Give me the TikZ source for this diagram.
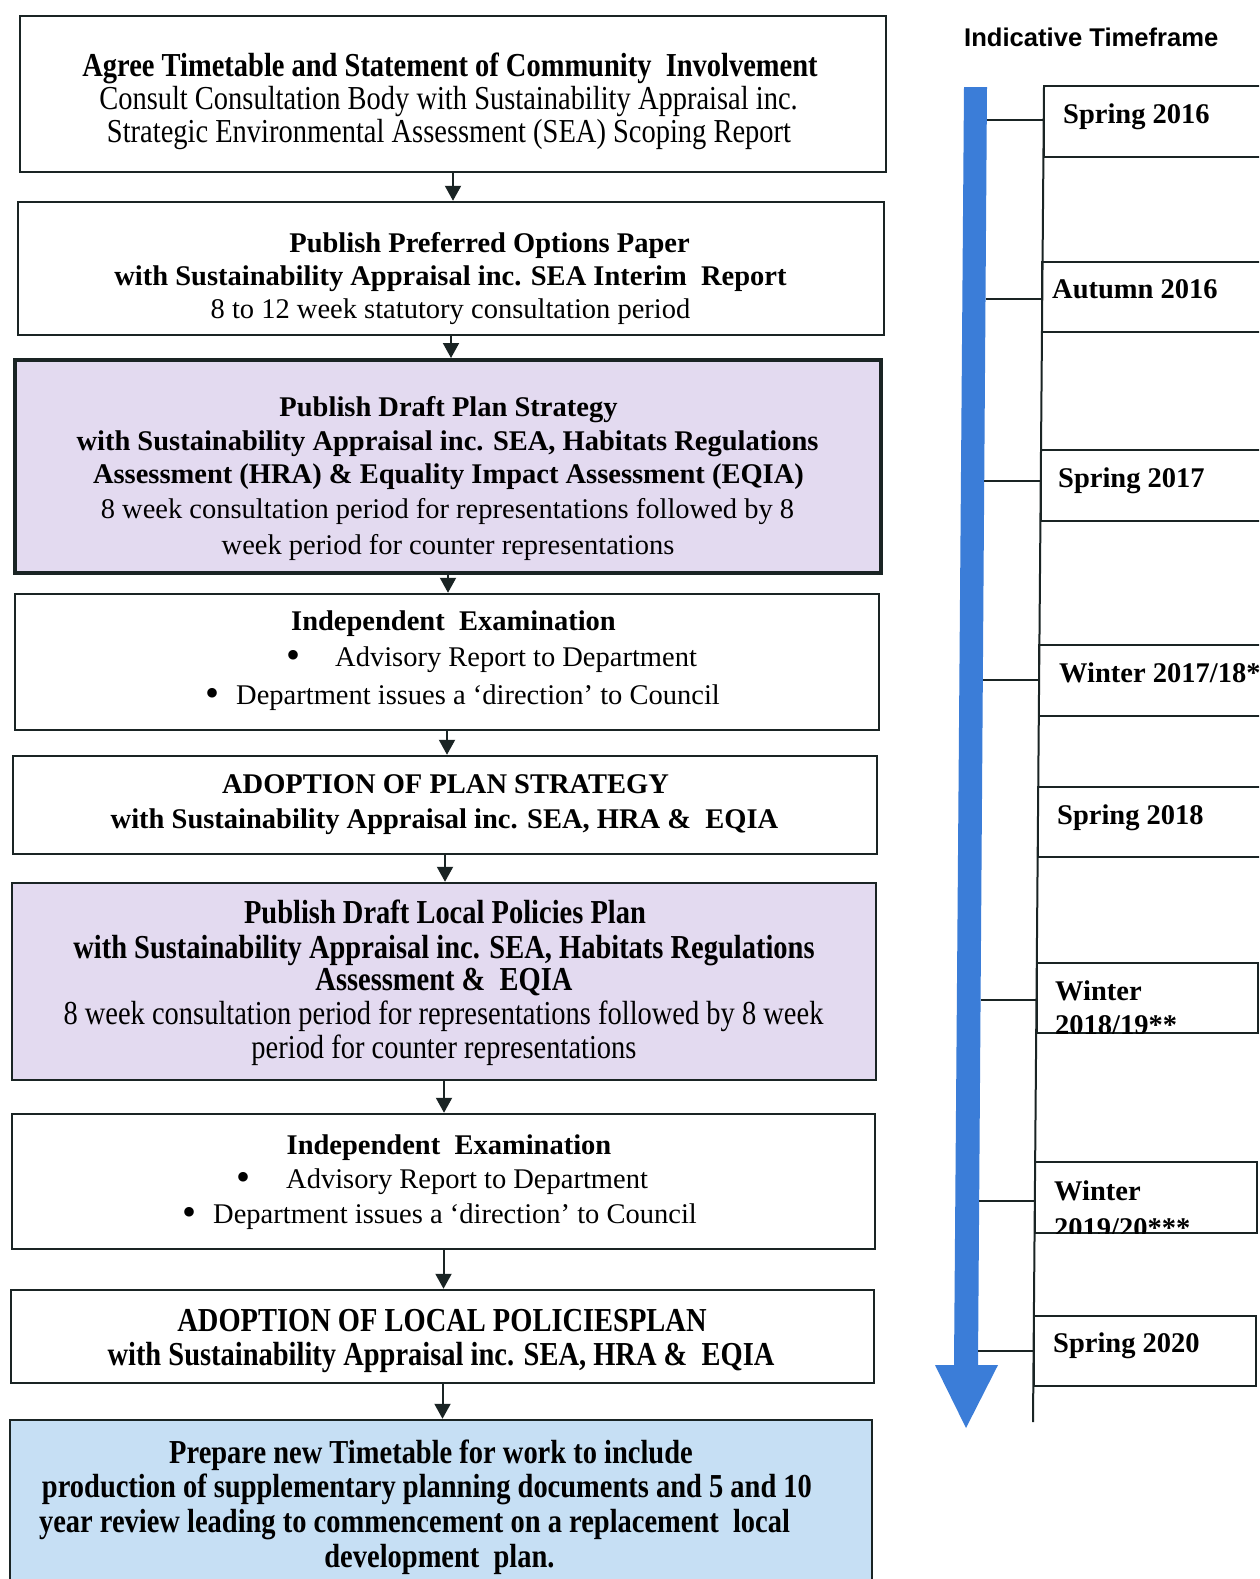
\documentclass[tikz,border=0pt]{standalone}
\usepackage{fontspec}
\setmainfont{Liberation Serif}
\newfontfamily\cnd[FakeStretch=0.85]{Liberation Serif}
\newfontfamily\hdr{Liberation Sans}
\usetikzlibrary{arrows.meta}
\definecolor{lav}{HTML}{E3DAF0}
\definecolor{sky}{HTML}{C6DFF4}
\definecolor{tlblue}{HTML}{3B7DD8}
\definecolor{ink}{HTML}{1A2424}
\tikzset{
  box/.style={draw=ink, line width=2.5pt, rectangle, inner sep=0pt},
  nr/.style={font=\fontsize{28.5}{33}\selectfont, inner sep=0pt, anchor=base},
  nb/.style={font=\bfseries\fontsize{28.5}{33}\selectfont, inner sep=0pt, anchor=base},
  cr/.style={font=\cnd\fontsize{33.5}{34}\selectfont, inner sep=0pt, anchor=base},
  cb/.style={font=\cnd\bfseries\fontsize{33.5}{34}\selectfont, inner sep=0pt, anchor=base},
  bl/.style={font=\fontsize{28.5}{33}\selectfont, inner sep=0pt, anchor=base west},
  bul/.style={font=\fontsize{40}{40}\selectfont, inner sep=0pt, anchor=base},
  flow/.style={draw=ink, line width=2pt, -{Triangle[length=15pt,width=16pt]}},
  tbox/.style={draw=ink, line width=2pt},
  tlab/.style={font=\bfseries\fontsize{28.5}{33}\selectfont, inner sep=0pt, anchor=base west},
}
\begin{document}
\begin{tikzpicture}[x=1pt,y=-1pt]
\clip (0,0) rectangle (1259,1579);
\fill[white] (0,0) rectangle (1259,1579);

% ---------- main flow boxes ----------
\node[box, minimum width=866pt, minimum height=156pt] (box1) at (453,94) {};
\node[box, minimum width=866pt, minimum height=133pt] (box2) at (451,268.5) {};
\node[box, fill=lav, line width=4pt, minimum width=866pt, minimum height=213pt] (box3) at (448,466.5) {};
\node[box, minimum width=864pt, minimum height=136pt] (box4) at (447,662) {};
\node[box, minimum width=864pt, minimum height=98pt] (box5) at (445,805) {};
\node[box, fill=lav, minimum width=864pt, minimum height=197pt] (box6) at (444,981.5) {};
\node[box, minimum width=863pt, minimum height=135pt] (box7) at (443.5,1181.5) {};
\node[box, minimum width=863pt, minimum height=93pt] (box8) at (442.5,1336.5) {};
\node[box, fill=sky, minimum width=862pt, minimum height=190pt] (box9) at (441,1515) {};

% ---------- connectors ----------
\draw[flow] (box1.south) -- (box1.south |- box2.north);
\draw[flow] (box2.south) -- (box2.south |- box3.north);
\draw[flow] (box3.south) -- (box3.south |- box4.north);
\draw[flow] (box4.south) -- (box4.south |- box5.north);
\draw[flow] (box5.south) -- (box5.south |- box6.north);
\draw[flow] (box6.south) -- (box6.south |- box7.north);
\draw[flow] (box7.south) -- (box7.south |- box8.north);
\draw[flow] (box8.south) -- (box8.south |- box9.north);

% ---------- box texts ----------
\node[cb] (t1a) at (450,77) {Agree Timetable and Statement of Community~ Involvement};
\node[cr] (t1b) at (448.5,109) {Consult Consultation Body with Sustainability Appraisal inc.};
\node[cr] (t1c) at (449,142) {Strategic Environmental Assessment (SEA) Scoping Report};

\node[nb] (t2a) at (489.5,252) {Publish Preferred Options Paper};
\node[nb] (t2b) at (450.5,285) {with Sustainability Appraisal inc. SEA Interim~ Report};
\node[nr] (t2c) at (450.5,318) {8 to 12 week statutory consultation period};

\node[nb] (t3a) at (448.5,416) {Publish Draft Plan Strategy};
\node[nb] (t3b) at (447.5,450) {with Sustainability Appraisal inc. SEA, Habitats Regulations};
\node[nb] (t3c) at (448.5,483) {Assessment (HRA) \& Equality Impact Assessment (EQIA)};
\node[nr] (t3d) at (447.5,518) {8 week consultation period for representations followed by 8};
\node[nr] (t3e) at (448,554) {week period for counter representations};

\node[nb] (t4a) at (453.5,630) {Independent~ Examination};
\node[bul] (t4b) at (293,668) {•};
\node[bl] (t4c) at (335,666) {Advisory Report to Department};
\node[bul] (t4d) at (212,706) {•};
\node[bl] (t4e) at (236,704) {Department issues a ‘direction’ to Council};

\node[nb] (t5a) at (445.5,793) {ADOPTION OF PLAN STRATEGY};
\node[nb] (t5b) at (444.5,828) {with Sustainability Appraisal inc. SEA, HRA \&~ EQIA};

\node[cb] (t6a) at (445,923) {Publish Draft Local Policies Plan};
\node[cb] (t6b) at (444,958) {with Sustainability Appraisal inc. SEA, Habitats Regulations};
\node[cb] (t6c) at (444,990) {Assessment \&~ EQIA};
\node[cr] (t6d) at (443.5,1024) {8 week consultation period for representations followed by 8 week};
\node[cr] (t6e) at (444,1058) {period for counter representations};

\node[nb] (t7a) at (449,1154) {Independent~ Examination};
\node[bul] (t7b) at (243,1190) {•};
\node[bl] (t7c) at (286,1188) {Advisory Report to Department};
\node[bul] (t7d) at (189,1225) {•};
\node[bl] (t7e) at (213,1223) {Department issues a ‘direction’ to Council};

\node[cb] (t8a) at (442,1331) {ADOPTION OF LOCAL POLICIESPLAN};
\node[cb] (t8b) at (441,1365) {with Sustainability Appraisal inc. SEA, HRA \&~ EQIA};

\node[cb] (t9a) at (431,1463) {Prepare new Timetable for work to include};
\node[cb] (t9b) at (427,1497) {production of supplementary planning documents and 5 and 10};
\node[cb] (t9c) at (414.5,1532) {year review leading to commencement on a replacement~ local};
\node[cb] (t9d) at (439.5,1567) {development~ plan.};

% ---------- timeline ----------
\node[font=\hdr\bfseries\fontsize{25.6}{30}\selectfont, inner sep=0pt, anchor=base west] (hdr) at (964,47) {Indicative Timeframe};

\fill[tlblue] (964,87) -- (987,87) -- (978,1365) -- (998,1365) -- (966,1428) -- (935,1365) -- (954,1365) -- cycle;

\coordinate (vtop) at (1044,86);
\coordinate (vbot) at (1033,1422);
\draw[ink, line width=2pt] (vtop) -- (vbot);

\draw[tbox] (1043.7,86) rectangle (1266,157);
\draw[tbox] (1042.3,262) rectangle (1266,332);
\draw[tbox] (1040.7,450) rectangle (1266,521);
\draw[tbox] (1039.1,645) rectangle (1266,716);
\draw[tbox] (1038,787) rectangle (1266,857);
\draw[tbox] (1036.5,963) rectangle (1258,1033);
\draw[tbox] (1034.9,1162) rectangle (1257,1233);
\draw[tbox] (1033.6,1316) rectangle (1256,1386);

% ticks
\draw[ink, line width=2pt] (986.8,120) -- (1043.7,120);
\draw[ink, line width=2pt] (985.5,299) -- (1042.2,299);
\draw[ink, line width=2pt] (984.2,481) -- (1040.8,481);
\draw[ink, line width=2pt] (982.8,680) -- (1039.1,680);
\draw[ink, line width=2pt] (980.6,1000) -- (1036.5,1000);
\draw[ink, line width=2pt] (979.2,1201) -- (1034.8,1201);
\draw[ink, line width=2pt] (978.1,1351) -- (1033.6,1351);

% labels
\node[tlab] (l1) at (1063,123) {Spring 2016};
\node[tlab] (l2) at (1052,298) {Autumn 2016};
\node[tlab] (l3) at (1058,487) {Spring 2017};
\node[tlab] (l4) at (1059,682) {Winter 2017/18*};
\node[tlab] (l5) at (1057,824) {Spring 2018};
\begin{scope}
  \clip (1036,963) rectangle (1258,1033);
  \node[tlab] (l6a) at (1055,1000) {Winter};
  \node[tlab] (l6b) at (1055,1034) {2018/19**};
\end{scope}
\begin{scope}
  \clip (1034,1162) rectangle (1257,1233);
  \node[tlab] (l7a) at (1054,1200) {Winter};
  \node[tlab] (l7b) at (1054,1237) {2019/20***};
\end{scope}
\node[tlab] (l8) at (1053,1352) {Spring 2020};
\end{tikzpicture}
\end{document}
